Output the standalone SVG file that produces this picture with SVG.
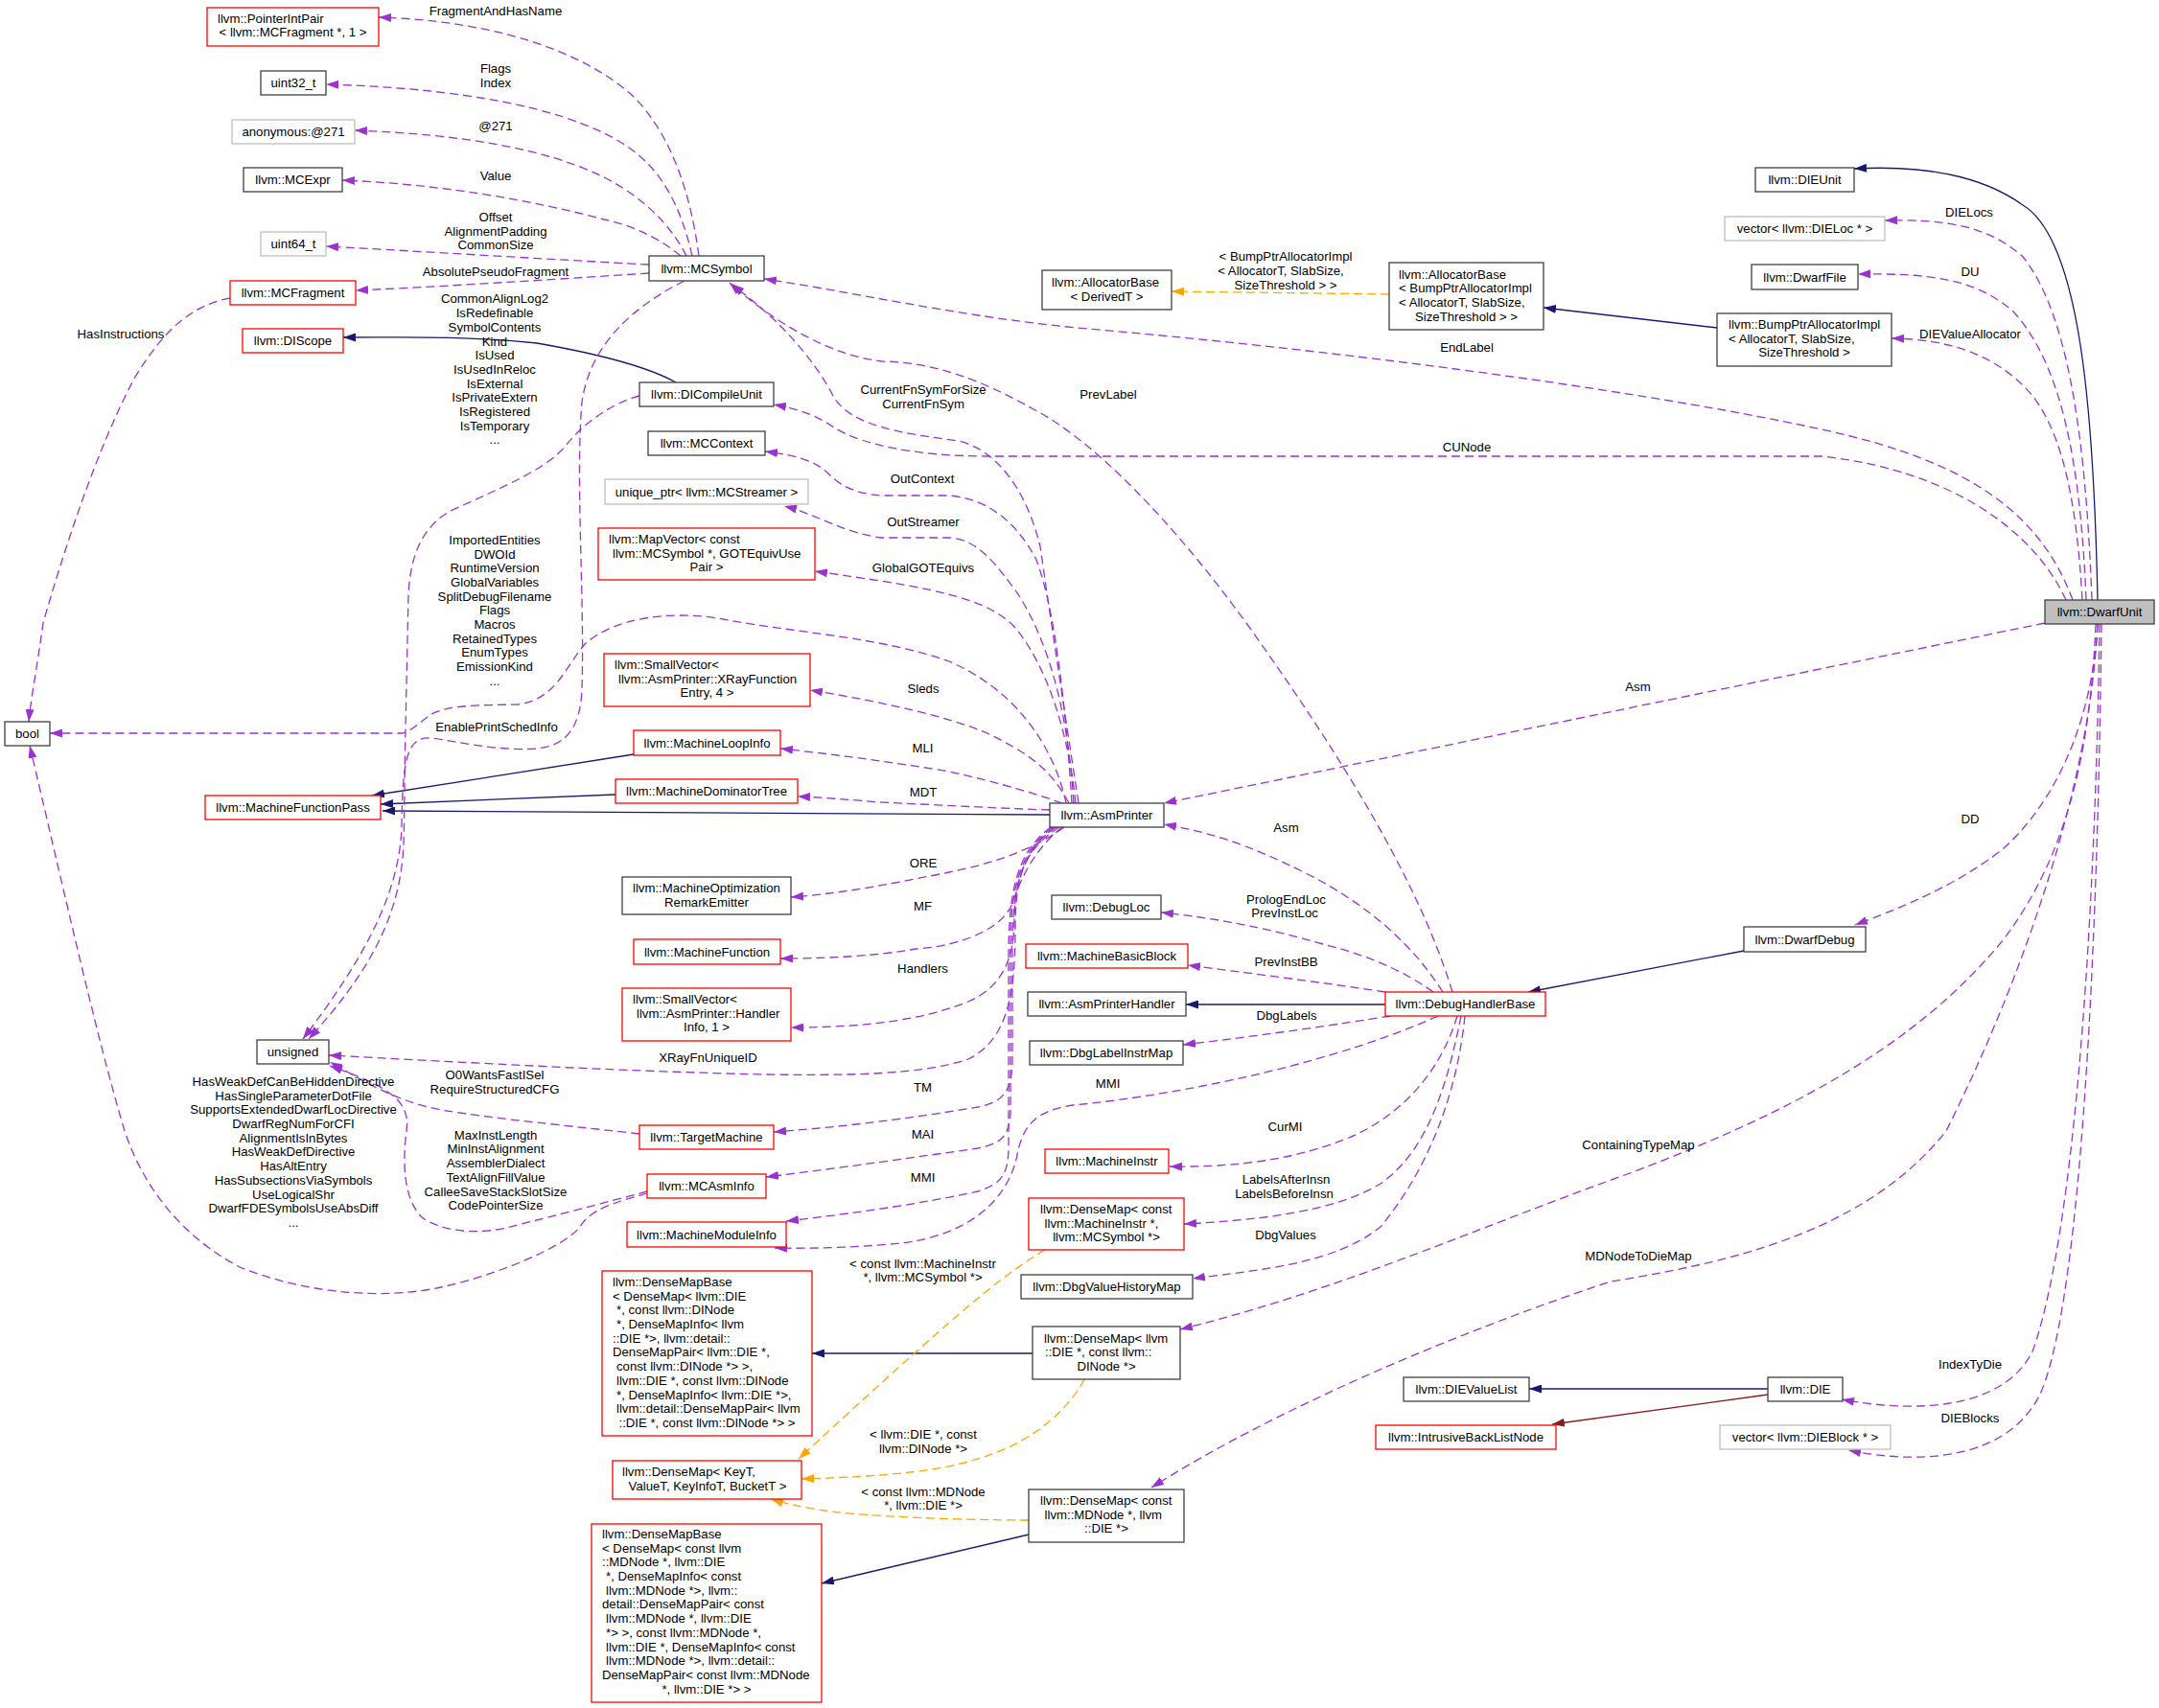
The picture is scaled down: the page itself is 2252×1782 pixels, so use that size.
<svg xmlns="http://www.w3.org/2000/svg" width="2252" height="1782" viewBox="0 0 2252 1782">
<style>
text{font-family:"Liberation Sans",Arial,sans-serif;font-size:13.2px;fill:#000}
.m{text-anchor:middle}
.nb{fill:#fff;stroke:#404040;stroke-width:1.3}
.nr{fill:#fff;stroke:#ff0000;stroke-width:1.3}
.ng{fill:#fff;stroke:#bfbfbf;stroke-width:1.3}
.e{fill:none;stroke:#9a32cd;stroke-width:1.3;stroke-dasharray:9,5;marker-end:url(#ap)}
.i{fill:none;stroke:#191970;stroke-width:1.3;marker-end:url(#an)}
.o{fill:none;stroke:#ffa500;stroke-width:1.3;stroke-dasharray:9,5;marker-end:url(#ao)}
.f{fill:none;stroke:#8b1a1a;stroke-width:1.3;marker-end:url(#af)}
</style>
<defs>
<marker id="ap" viewBox="0 0 13 9" refX="13" refY="4.5" markerWidth="13" markerHeight="9" markerUnits="userSpaceOnUse" orient="auto"><path d="M0,0L13,4.5L0,9z" fill="#9a32cd"/></marker>
<marker id="an" viewBox="0 0 13 9" refX="13" refY="4.5" markerWidth="13" markerHeight="9" markerUnits="userSpaceOnUse" orient="auto"><path d="M0,0L13,4.5L0,9z" fill="#191970"/></marker>
<marker id="ao" viewBox="0 0 13 9" refX="13" refY="4.5" markerWidth="13" markerHeight="9" markerUnits="userSpaceOnUse" orient="auto"><path d="M0,0L13,4.5L0,9z" fill="#ffa500"/></marker>
<marker id="af" viewBox="0 0 13 9" refX="13" refY="4.5" markerWidth="13" markerHeight="9" markerUnits="userSpaceOnUse" orient="auto"><path d="M0,0L13,4.5L0,9z" fill="#8b1a1a"/></marker>
</defs>
<rect x="0" y="0" width="2252" height="1782" fill="#fff"/>
<g id="edges">
<path class="i" d="M2188,626 C2184,430 2170,250 2110,214 C2070,185 2010,172 1934,176"/>
<path class="e" d="M2182,626 C2176,470 2160,330 2110,268 C2070,232 2020,229 1966,230"/>
<path class="e" d="M2176,626 C2170,480 2150,380 2100,325 C2060,290 2010,285 1938,286"/>
<path class="e" d="M2172,626 C2166,520 2150,440 2110,402 C2075,368 2030,354 1973,353"/>
<path class="e" d="M2162,626 C2130,540 2060,482 1900,448 C1750,415 1450,370 1123,342 C1000,330 880,303 797,291"/>
<path class="e" d="M2155,626 C2120,550 2030,490 1900,476 L1030,476 C960,476 900,465 870,446 C855,436 840,428 807,422"/>
<path class="e" d="M2133,650 L1214,838"/>
<path class="e" d="M2188,651 C2182,760 2140,840 2090,885 C2040,925 1980,948 1935,965"/>
<path class="e" d="M2186,651 C2180,800 2150,900 2090,980 C2000,1090 1870,1160 1700,1224 C1530,1285 1400,1345 1231,1387"/>
<path class="e" d="M2188,651 C2180,820 2110,1020 2030,1180 C1950,1280 1820,1315 1680,1337 C1520,1390 1330,1470 1201,1552"/>
<path class="e" d="M2190,651 C2185,1000 2160,1300 2120,1410 C2090,1470 2000,1475 1921,1460"/>
<path class="e" d="M2192,651 C2188,1000 2170,1350 2130,1450 C2100,1520 2010,1530 1928,1513"/>
<path class="i" d="M1819,992 L1594,1035"/>
<path class="i" d="M1844,1449 L1595,1449"/>
<path class="f" d="M1844,1455 L1619,1486"/>
<path class="i" d="M1791,342 L1610,321"/>
<path class="o" d="M1449,307 L1222,304"/>
<path class="e" d="M1505,1035 C1470,980 1420,940 1360,910 C1300,880 1260,868 1214,860"/>
<path class="e" d="M1495,1035 C1460,1010 1420,995 1380,985 C1320,968 1270,958 1211,952"/>
<path class="e" d="M1445,1035 C1380,1025 1300,1015 1239,1007"/>
<path class="i" d="M1445,1048 L1237,1048"/>
<path class="e" d="M1450,1060 C1400,1068 1320,1080 1234,1090"/>
<path class="e" d="M1500,1060 C1400,1105 1250,1140 1120,1153 C1080,1158 1068,1175 1062,1200 C1052,1260 1000,1290 940,1297 C900,1301 850,1303 808,1302"/>
<path class="e" d="M1520,1060 C1505,1110 1470,1160 1407,1187 C1350,1210 1290,1218 1220,1217"/>
<path class="e" d="M1524,1060 C1510,1130 1490,1200 1440,1235 C1390,1265 1310,1273 1235,1277"/>
<path class="e" d="M1528,1060 C1520,1140 1490,1220 1440,1280 C1390,1320 1310,1325 1244,1334"/>
<path class="e" d="M1515,1035 C1480,920 1400,790 1300,650 C1220,540 1140,460 1080,428 C1030,400 980,378 920,377 C860,370 800,330 761,295"/>
<path class="e" d="M1125,838 C1110,740 1095,640 1085,570 C1070,510 1040,470 1000,460 C940,452 890,445 870,415 C850,375 810,330 763,297"/>
<path class="e" d="M1118,838 C1112,740 1100,630 1080,582 C1060,545 1030,520 990,517 L919,517 C890,515 875,505 865,495 C850,480 830,475 798,471"/>
<path class="e" d="M1120,838 C1115,760 1100,680 1062,620 C1040,590 1020,562 990,561 L919,561 C880,556 850,536 818,528"/>
<path class="e" d="M1122,838 C1115,770 1095,700 1060,656 C1035,628 990,618 919,606 L850,596"/>
<path class="e" d="M1115,838 C1095,800 1070,785 1030,765 C990,748 920,732 845,720"/>
<path class="e" d="M1108,838 C1080,828 1040,816 990,805 C930,795 870,787 814,781"/>
<path class="e" d="M1095,845 C1060,844 980,840 919,837 C880,834 860,832 832,831"/>
<path class="i" d="M1095,850 L399,846"/>
<path class="i" d="M661,787 L388,830"/>
<path class="i" d="M642,829 L397,839"/>
<path class="i" d="M705,399 C680,385 640,372 560,358 C480,350 420,352 358,352"/>
<path class="e" d="M729,267 C720,200 700,140 660,100 C610,55 520,22 395,18"/>
<path class="e" d="M722,267 C710,215 690,175 650,150 C590,112 480,92 340,88"/>
<path class="e" d="M716,267 C700,235 670,205 630,185 C570,155 480,140 370,136"/>
<path class="e" d="M710,267 C690,250 660,235 630,229 C560,210 460,192 357,188"/>
<path class="e" d="M677,276 C580,271 470,264 340,257"/>
<path class="e" d="M677,285 C600,290 480,298 371,303"/>
<path class="e" d="M240,311 C200,318 170,345 140,395 C100,470 65,580 45,650 C38,700 32,730 30,753"/>
<path class="e" d="M714,293 C660,320 615,360 607,420 C600,500 610,620 607,720 C605,760 590,778 560,781 C520,784 480,774 450,770 C425,768 420,790 419,860 C418,930 380,1000 316,1084"/>
<path class="e" d="M667,413 C640,420 610,440 590,465 C570,490 520,510 470,533 C440,550 428,580 426,620 L423,760 C422,800 422,850 421,880 C418,960 380,1020 322,1084"/>
<path class="e" d="M1112,838 C1100,780 1060,720 990,690 C920,665 830,660 760,647 C700,635 640,645 610,672 C590,695 580,730 540,735 C500,736 470,735 450,745 C440,752 430,762 420,765 L52,765"/>
<path class="e" d="M1110,863 C1080,885 1040,900 990,910 C930,922 880,932 825,936"/>
<path class="e" d="M1108,863 C1080,885 1065,915 1055,945 C1040,975 990,988 955,990 C910,998 860,1000 814,1000"/>
<path class="e" d="M1105,863 C1070,885 1058,915 1058,960 C1058,1000 1045,1030 1010,1045 C960,1065 900,1072 825,1072"/>
<path class="e" d="M1102,863 C1066,885 1059,920 1059,970 C1059,1040 1050,1085 1010,1105 C960,1122 880,1122 800,1121 C650,1118 480,1108 343,1101"/>
<path class="e" d="M1100,863 C1064,890 1057,930 1056,980 L1056,1110 C1055,1140 1045,1150 1020,1155 C960,1165 890,1175 807,1181"/>
<path class="e" d="M1098,863 C1062,890 1054,930 1054,990 L1054,1160 C1053,1185 1045,1193 1020,1198 C950,1208 880,1218 799,1228"/>
<path class="e" d="M1096,863 C1060,890 1052,930 1052,1000 L1052,1200 C1051,1225 1045,1235 1020,1243 C960,1256 890,1266 820,1274"/>
<path class="e" d="M667,1183 C600,1175 520,1168 460,1158 C410,1148 380,1128 344,1108"/>
<path class="e" d="M675,1243 C630,1255 580,1268 540,1278 C500,1290 460,1285 440,1270 C420,1250 420,1210 424,1180 C428,1150 410,1135 344,1112"/>
<path class="e" d="M675,1245 C640,1255 615,1262 605,1280 C590,1300 520,1330 460,1343 C400,1356 320,1350 250,1322 C190,1290 150,1240 130,1180 C100,1080 60,900 31,778"/>
<path class="i" d="M1077,1412 L847,1412"/>
<path class="o" d="M1131,1439 C1115,1470 1080,1500 1040,1515 C990,1535 930,1540 836,1543"/>
<path class="o" d="M1090,1304 C1060,1322 1030,1345 990,1380 C950,1415 900,1460 833,1522"/>
<path class="o" d="M1073,1586 C1000,1586 900,1582 860,1576 C840,1573 820,1569 804,1564"/>
<path class="i" d="M1073,1601 L857,1652"/>
</g>
<g id="edge-labels">
<text class="m" x="517" y="16">FragmentAndHasName</text>
<text class="m" x="517" y="76.1">Flags</text><text class="m" x="517" y="90.8">Index</text>
<text class="m" x="517" y="135.8">@271</text>
<text class="m" x="517" y="188.2">Value</text>
<text class="m" x="517" y="231">Offset</text><text class="m" x="517" y="245.7">AlignmentPadding</text><text class="m" x="517" y="260.4">CommonSize</text>
<text class="m" x="517" y="288">AbsolutePseudoFragment</text>
<text class="m" x="516" y="316.4">CommonAlignLog2</text><text class="m" x="516" y="331.1">IsRedefinable</text><text class="m" x="516" y="345.8">SymbolContents</text><text class="m" x="516" y="360.5">Kind</text><text class="m" x="516" y="375.2">IsUsed</text><text class="m" x="516" y="389.9">IsUsedInReloc</text><text class="m" x="516" y="404.6">IsExternal</text><text class="m" x="516" y="419.3">IsPrivateExtern</text><text class="m" x="516" y="434">IsRegistered</text><text class="m" x="516" y="448.7">IsTemporary</text><text class="m" x="516" y="463.4">...</text>
<text class="m" x="126" y="352.7">HasInstructions</text>
<text class="m" x="516" y="567.8">ImportedEntities</text><text class="m" x="516" y="582.5">DWOId</text><text class="m" x="516" y="597.2">RuntimeVersion</text><text class="m" x="516" y="611.9">GlobalVariables</text><text class="m" x="516" y="626.6">SplitDebugFilename</text><text class="m" x="516" y="641.3">Flags</text><text class="m" x="516" y="656">Macros</text><text class="m" x="516" y="670.7">RetainedTypes</text><text class="m" x="516" y="685.4">EnumTypes</text><text class="m" x="516" y="700.1">EmissionKind</text><text class="m" x="516" y="714.8">...</text>
<text class="m" x="518" y="762.9">EnablePrintSchedInfo</text>
<text class="m" x="306" y="1132.9">HasWeakDefCanBeHiddenDirective</text><text class="m" x="306" y="1147.6">HasSingleParameterDotFile</text><text class="m" x="306" y="1162.3">SupportsExtendedDwarfLocDirective</text><text class="m" x="306" y="1177">DwarfRegNumForCFI</text><text class="m" x="306" y="1191.7">AlignmentIsInBytes</text><text class="m" x="306" y="1206.4">HasWeakDefDirective</text><text class="m" x="306" y="1221.1">HasAltEntry</text><text class="m" x="306" y="1235.8">HasSubsectionsViaSymbols</text><text class="m" x="306" y="1250.5">UseLogicalShr</text><text class="m" x="306" y="1265.2">DwarfFDESymbolsUseAbsDiff</text><text class="m" x="306" y="1279.9">...</text>
<text class="m" x="516" y="1126.4">O0WantsFastISel</text><text class="m" x="516" y="1141.1">RequireStructuredCFG</text>
<text class="m" x="517" y="1188.7">MaxInstLength</text><text class="m" x="517" y="1203.4">MinInstAlignment</text><text class="m" x="517" y="1218.1">AssemblerDialect</text><text class="m" x="517" y="1232.8">TextAlignFillValue</text><text class="m" x="517" y="1247.5">CalleeSaveStackSlotSize</text><text class="m" x="517" y="1262.2">CodePointerSize</text>
<text class="m" x="963" y="410.9">CurrentFnSymForSize</text><text class="m" x="963" y="425.6">CurrentFnSym</text>
<text class="m" x="962" y="503.9">OutContext</text>
<text class="m" x="963" y="548.6">OutStreamer</text>
<text class="m" x="963" y="597">GlobalGOTEquivs</text>
<text class="m" x="963" y="722.7">Sleds</text>
<text class="m" x="962.5" y="784.7">MLI</text>
<text class="m" x="963" y="830.6">MDT</text>
<text class="m" x="963" y="904.5">ORE</text>
<text class="m" x="962.5" y="950.4">MF</text>
<text class="m" x="962.5" y="1014.7">Handlers</text>
<text class="m" x="738.5" y="1108.4">XRayFnUniqueID</text>
<text class="m" x="962.5" y="1139">TM</text>
<text class="m" x="962.5" y="1187.6">MAI</text>
<text class="m" x="962.5" y="1232.9">MMI</text>
<text class="m" x="962.5" y="1322.7">&lt; const llvm::MachineInstr</text><text class="m" x="962.5" y="1337.4"> *, llvm::MCSymbol *&gt;</text>
<text class="m" x="963" y="1500.8">&lt; llvm::DIE *, const</text><text class="m" x="963" y="1515.5">llvm::DINode *&gt;</text>
<text class="m" x="963" y="1560.7">&lt; const llvm::MDNode</text><text class="m" x="963" y="1575.4"> *, llvm::DIE *&gt;</text>
<text class="m" x="1341" y="272.4">&lt; BumpPtrAllocatorImpl</text><text class="m" x="1336" y="287">&lt; AllocatorT, SlabSize,</text><text class="m" x="1341" y="301.6">SizeThreshold &gt; &gt;</text>
<text class="m" x="1530" y="367.3">EndLabel</text>
<text class="m" x="1156" y="415.9">PrevLabel</text>
<text class="m" x="1530" y="470.6">CUNode</text>
<text class="m" x="1708.5" y="720.8">Asm</text>
<text class="m" x="1341.5" y="868.1">Asm</text>
<text class="m" x="1341.5" y="942.7">PrologEndLoc</text><text class="m" x="1340" y="957.4">PrevInstLoc</text>
<text class="m" x="1341.5" y="1007.8">PrevInstBB</text>
<text class="m" x="1342" y="1063.6">DbgLabels</text>
<text class="m" x="1155.5" y="1134.8">MMI</text>
<text class="m" x="1340.5" y="1180">CurMI</text>
<text class="m" x="1341.5" y="1234.8">LabelsAfterInsn</text><text class="m" x="1339.5" y="1249.5">LabelsBeforeInsn</text>
<text class="m" x="1341" y="1292.8">DbgValues</text>
<text class="m" x="1709" y="1198.7">ContainingTypeMap</text>
<text class="m" x="1709" y="1314.6">MDNodeToDieMap</text>
<text class="m" x="2054" y="226.4">DIELocs</text>
<text class="m" x="2055" y="287.7">DU</text>
<text class="m" x="2055" y="352.7">DIEValueAllocator</text>
<text class="m" x="2055" y="858.5">DD</text>
<text class="m" x="2055" y="1427.5">IndexTyDie</text>
<text class="m" x="2055" y="1483.6">DIEBlocks</text>
</g>
<g id="n_PointerIntPair"><rect class="nr" x="216" y="8" width="179" height="40"/><text x="227" y="23.6">llvm::PointerIntPair</text><text class="m" x="305.5" y="38.3">&lt; llvm::MCFragment *, 1 &gt;</text></g>
<g id="n_uint32"><rect class="nb" x="272" y="74" width="68" height="25"/><text class="m" x="306" y="91.1">uint32_t</text></g>
<g id="n_anon"><rect class="ng" x="242" y="125" width="128" height="25"/><text class="m" x="306" y="142.1">anonymous:@271</text></g>
<g id="n_MCExpr"><rect class="nb" x="254" y="175" width="103" height="25"/><text class="m" x="305.5" y="192.1">llvm::MCExpr</text></g>
<g id="n_uint64"><rect class="ng" x="272" y="242" width="68" height="25"/><text class="m" x="306" y="259.1">uint64_t</text></g>
<g id="n_MCFragment"><rect class="nr" x="240" y="293" width="131" height="25"/><text class="m" x="305.5" y="310.1">llvm::MCFragment</text></g>
<g id="n_DIScope"><rect class="nr" x="253" y="343" width="105" height="25"/><text class="m" x="305.5" y="360.1">llvm::DIScope</text></g>
<g id="n_bool"><rect class="nb" x="5" y="753" width="47" height="25"/><text class="m" x="28.5" y="770.1">bool</text></g>
<g id="n_MFP"><rect class="nr" x="214" y="830" width="183" height="25"/><text class="m" x="305.5" y="847.1">llvm::MachineFunctionPass</text></g>
<g id="n_unsigned"><rect class="nb" x="268" y="1085" width="75" height="25"/><text class="m" x="305.5" y="1102.1">unsigned</text></g>
<g id="n_MCSymbol"><rect class="nb" x="677" y="267" width="120" height="26"/><text class="m" x="737" y="284.6">llvm::MCSymbol</text></g>
<g id="n_DICompileUnit"><rect class="nb" x="667" y="399" width="140" height="25"/><text class="m" x="737" y="416.1">llvm::DICompileUnit</text></g>
<g id="n_MCContext"><rect class="nb" x="676" y="450" width="122" height="25"/><text class="m" x="737" y="467.1">llvm::MCContext</text></g>
<g id="n_uniqueptr"><rect class="ng" x="631" y="500" width="212" height="26"/><text class="m" x="737" y="517.6">unique_ptr&lt; llvm::MCStreamer &gt;</text></g>
<g id="n_MapVector"><rect class="nr" x="624" y="551" width="226" height="54"/><text x="635" y="567">llvm::MapVector&lt; const</text><text x="639" y="581.6">llvm::MCSymbol *, GOTEquivUse</text><text class="m" x="737" y="596.3">Pair &gt;</text></g>
<g id="n_SVXRay"><rect class="nr" x="630" y="682" width="215" height="55"/><text x="641" y="697.8">llvm::SmallVector&lt;</text><text x="645" y="712.5">llvm::AsmPrinter::XRayFunction</text><text class="m" x="737.5" y="727.2">Entry, 4 &gt;</text></g>
<g id="n_MLI"><rect class="nr" x="661" y="762" width="153" height="26"/><text class="m" x="737.5" y="779.6">llvm::MachineLoopInfo</text></g>
<g id="n_MDT"><rect class="nr" x="642" y="813" width="190" height="25"/><text class="m" x="737" y="830.1">llvm::MachineDominatorTree</text></g>
<g id="n_ORE"><rect class="nb" x="649" y="915" width="176" height="39"/><text x="660" y="930.9">llvm::MachineOptimization</text><text class="m" x="737" y="945.6">RemarkEmitter</text></g>
<g id="n_MF"><rect class="nr" x="661" y="980" width="153" height="26"/><text class="m" x="737.5" y="997.6">llvm::MachineFunction</text></g>
<g id="n_SVHandler"><rect class="nr" x="649" y="1031" width="176" height="55"/><text x="660" y="1046.8">llvm::SmallVector&lt;</text><text x="664" y="1061.5">llvm::AsmPrinter::Handler</text><text class="m" x="737" y="1076.2">Info, 1 &gt;</text></g>
<g id="n_TM"><rect class="nr" x="667" y="1174" width="140" height="25"/><text class="m" x="737" y="1191.1">llvm::TargetMachine</text></g>
<g id="n_MCAsmInfo"><rect class="nr" x="675" y="1225" width="124" height="25"/><text class="m" x="737" y="1242.1">llvm::MCAsmInfo</text></g>
<g id="n_MMI"><rect class="nr" x="654" y="1275" width="166" height="26"/><text class="m" x="737" y="1292.6">llvm::MachineModuleInfo</text></g>
<g id="n_DMBDIE"><rect class="nr" x="628" y="1326" width="219" height="172"/>
<text x="639" y="1341.9">llvm::DenseMapBase</text><text x="639" y="1356.6">&lt; DenseMap&lt; llvm::DIE</text><text x="643" y="1371.3">*, const llvm::DINode</text><text x="643" y="1386">*, DenseMapInfo&lt; llvm</text><text x="639" y="1400.7">::DIE *&gt;, llvm::detail::</text><text x="639" y="1415.4">DenseMapPair&lt; llvm::DIE *,</text><text x="643" y="1430.1">const llvm::DINode *&gt; &gt;,</text><text x="643" y="1444.8">llvm::DIE *, const llvm::DINode</text><text x="643" y="1459.5">*, DenseMapInfo&lt; llvm::DIE *&gt;,</text><text x="643" y="1474.2">llvm::detail::DenseMapPair&lt; llvm</text><text class="m" x="737.5" y="1488.9">::DIE *, const llvm::DINode *&gt; &gt;</text></g>
<g id="n_DenseMapKeyT"><rect class="nr" x="639" y="1524" width="197" height="40"/><text x="649" y="1540">llvm::DenseMap&lt; KeyT,</text><text class="m" x="738" y="1554.7">ValueT, KeyInfoT, BucketT &gt;</text></g>
<g id="n_DMBMD"><rect class="nr" x="617" y="1590" width="240" height="186"/>
<text x="628" y="1604.9">llvm::DenseMapBase</text><text x="628" y="1619.6">&lt; DenseMap&lt; const llvm</text><text x="628" y="1634.3">::MDNode *, llvm::DIE</text><text x="632" y="1649">*, DenseMapInfo&lt; const</text><text x="632" y="1663.7">llvm::MDNode *&gt;, llvm::</text><text x="628" y="1678.4">detail::DenseMapPair&lt; const</text><text x="632" y="1693.1">llvm::MDNode *, llvm::DIE</text><text x="632" y="1707.8">*&gt; &gt;, const llvm::MDNode *,</text><text x="632" y="1722.5">llvm::DIE *, DenseMapInfo&lt; const</text><text x="632" y="1737.2">llvm::MDNode *&gt;, llvm::detail::</text><text x="628" y="1751.9">DenseMapPair&lt; const llvm::MDNode</text><text class="m" x="737" y="1766.6">*, llvm::DIE *&gt; &gt;</text></g>
<g id="n_AllocBaseD"><rect class="nb" x="1087" y="282" width="135" height="41"/><text x="1097" y="299.1">llvm::AllocatorBase</text><text class="m" x="1154.5" y="313.8">&lt; DerivedT &gt;</text></g>
<g id="n_AllocBaseB"><rect class="nb" x="1449" y="274" width="161" height="70"/><text x="1459" y="290.7">llvm::AllocatorBase</text><text x="1459" y="305.4">&lt; BumpPtrAllocatorImpl</text><text x="1459" y="320.1">&lt; AllocatorT, SlabSize,</text><text class="m" x="1529.5" y="334.8">SizeThreshold &gt; &gt;</text></g>
<g id="n_AsmPrinter"><rect class="nb" x="1095" y="838" width="119" height="25"/><text class="m" x="1154.5" y="855.1">llvm::AsmPrinter</text></g>
<g id="n_DebugLoc"><rect class="nb" x="1097" y="934" width="114" height="25"/><text class="m" x="1154" y="951.1">llvm::DebugLoc</text></g>
<g id="n_MBB"><rect class="nr" x="1070" y="985" width="169" height="25"/><text class="m" x="1154.5" y="1002.1">llvm::MachineBasicBlock</text></g>
<g id="n_APH"><rect class="nb" x="1072" y="1035" width="165" height="25"/><text class="m" x="1154.5" y="1052.1">llvm::AsmPrinterHandler</text></g>
<g id="n_DLIM"><rect class="nb" x="1074" y="1086" width="160" height="25"/><text class="m" x="1154" y="1103.1">llvm::DbgLabelInstrMap</text></g>
<g id="n_MI"><rect class="nr" x="1090" y="1199" width="129" height="25"/><text class="m" x="1154.5" y="1216.1">llvm::MachineInstr</text></g>
<g id="n_DMMI"><rect class="nr" x="1073" y="1250" width="162" height="54"/><text x="1085" y="1265.9">llvm::DenseMap&lt; const</text><text x="1089.6" y="1280.6">llvm::MachineInstr *,</text><text class="m" x="1154" y="1295.3">llvm::MCSymbol *&gt;</text></g>
<g id="n_DVHM"><rect class="nb" x="1065" y="1330" width="179" height="25"/><text class="m" x="1154.5" y="1347.1">llvm::DbgValueHistoryMap</text></g>
<g id="n_DMDIE"><rect class="nb" x="1077" y="1384" width="154" height="55"/><text x="1089" y="1400.6">llvm::DenseMap&lt; llvm</text><text x="1090" y="1415.3">::DIE *, const llvm::</text><text class="m" x="1154" y="1430">DINode *&gt;</text></g>
<g id="n_DMMD"><rect class="nb" x="1073" y="1554" width="162" height="55"/><text x="1085" y="1569.9">llvm::DenseMap&lt; const</text><text x="1089.6" y="1584.6">llvm::MDNode *, llvm</text><text class="m" x="1154" y="1599.3">::DIE *&gt;</text></g>
<g id="n_DHB"><rect class="nr" x="1445" y="1035" width="167" height="25"/><text class="m" x="1528.5" y="1052.1">llvm::DebugHandlerBase</text></g>
<g id="n_DIEValueList"><rect class="nb" x="1464" y="1437" width="131" height="25"/><text class="m" x="1529.5" y="1454.1">llvm::DIEValueList</text></g>
<g id="n_IBLN"><rect class="nr" x="1435" y="1487" width="188" height="25"/><text class="m" x="1529" y="1504.1">llvm::IntrusiveBackListNode</text></g>
<g id="n_DIEUnit"><rect class="nb" x="1831" y="175" width="103" height="25"/><text class="m" x="1882.5" y="192.1">llvm::DIEUnit</text></g>
<g id="n_vecDIELoc"><rect class="ng" x="1799" y="226" width="167" height="25"/><text class="m" x="1882.5" y="243.1">vector&lt; llvm::DIELoc * &gt;</text></g>
<g id="n_DwarfFile"><rect class="nb" x="1827" y="276" width="111" height="26"/><text class="m" x="1882.5" y="293.6">llvm::DwarfFile</text></g>
<g id="n_BumpPtr"><rect class="nb" x="1791" y="327" width="182" height="55"/><text x="1803" y="342.8">llvm::BumpPtrAllocatorImpl</text><text x="1803" y="357.5">&lt; AllocatorT, SlabSize,</text><text class="m" x="1882" y="372.2">SizeThreshold &gt;</text></g>
<g id="n_DwarfDebug"><rect class="nb" x="1819" y="967" width="127" height="26"/><text class="m" x="1882.5" y="984.6">llvm::DwarfDebug</text></g>
<g id="n_DwarfUnit"><rect x="2133" y="626" width="114" height="25" fill="#bfbfbf" stroke="#404040" stroke-width="1.3"/><text class="m" x="2190" y="643.1">llvm::DwarfUnit</text></g>
<g id="n_DIE"><rect class="nb" x="1844" y="1437" width="78" height="25"/><text class="m" x="1883" y="1454.1">llvm::DIE</text></g>
<g id="n_vecDIEBlock"><rect class="ng" x="1794" y="1487" width="178" height="25"/><text class="m" x="1883" y="1504.1">vector&lt; llvm::DIEBlock * &gt;</text></g>
</svg>
